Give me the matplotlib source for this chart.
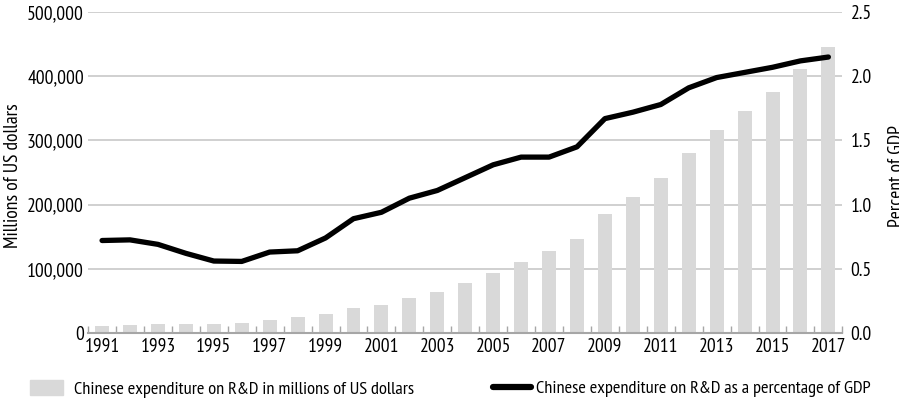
import numpy as np
import matplotlib
matplotlib.use('Agg')
import matplotlib.pyplot as plt
from matplotlib import font_manager
from matplotlib.ticker import FuncFormatter, FixedLocator
from matplotlib.patches import Patch
from matplotlib.lines import Line2D

# pick a narrow sans if one is around, the original uses a condensed face
have = {f.name for f in font_manager.fontManager.ttflist}
prefs = ['PT Sans Narrow', 'Roboto Condensed', 'Open Sans Condensed', 'Fira Sans Condensed',
         'Liberation Sans Narrow', 'Arimo', 'Liberation Sans']
fam = [f for f in prefs if f in have][:1] + ['DejaVu Sans']
plt.rcParams['font.family'] = fam

years = list(range(1991, 2018))
spend_musd = [11400, 13000, 14500, 14500, 14500, 16000, 20800, 24000, 30000, 39500,
              44000, 55000, 64400, 78400, 94000, 111000, 128000, 147000, 186000, 212000,
              242000, 281000, 317000, 346000, 376000, 412000, 446000]
pct_gdp = [0.72, 0.725, 0.69, 0.62, 0.56, 0.557, 0.63, 0.64, 0.74, 0.89,
           0.94, 1.05, 1.11, 1.21, 1.31, 1.37, 1.37, 1.45, 1.67, 1.72,
           1.78, 1.91, 1.99, 2.03, 2.07, 2.12, 2.15]
tick_years = years[::2]

bar_label = 'Chinese expenditure on R&D in millions of US dollars'
line_label = 'Chinese expenditure on R&D as a percentage of GDP'
fs = 14
fs_leg = 13.2

fig = plt.figure(figsize=(8.99, 4.04), dpi=100)
ax = fig.add_axes([0.098, 0.176, 0.839, 0.794])
x = np.arange(len(years))

ax.bar(x, spend_musd, width=0.5, color='#d9d9d9', zorder=2)
ax.set_ylim(0, 500000)
ax.set_xlim(-0.5, len(years) - 0.5)
ax.set_yticks(range(0, 500001, 100000))
ax.yaxis.set_major_formatter(FuncFormatter(lambda v, p: f'{int(v):,}'))
ax.grid(axis='y', color='#c8c8c8', lw=1.2, zorder=0)
ax.set_axisbelow(True)
for s in ['top', 'left', 'right']:
    ax.spines[s].set_visible(False)
ax.spines['bottom'].set_color('#a6a6a6')
ax.spines['bottom'].set_linewidth(1.5)
ax.spines['bottom'].set_zorder(3)

ax.set_xticks([years.index(y) for y in tick_years])
ax.set_xticklabels([str(y) for y in tick_years])
ax.xaxis.set_minor_locator(FixedLocator(np.arange(-0.5, len(years), 1.0)))
ax.tick_params(axis='x', which='major', length=0, labelsize=fs, pad=4)
ax.tick_params(axis='x', which='minor', direction='in', length=5, color='#a6a6a6', width=1)
ax.tick_params(axis='y', length=0, labelsize=fs, pad=3)
ax.set_ylabel('Millions of US dollars', fontsize=fs)
ax.yaxis.set_label_coords(-0.087, 0.49)

ax2 = ax.twinx()
ax2.plot(x, pct_gdp, color='black', lw=3.8, solid_capstyle='round', solid_joinstyle='round', zorder=4)
ax2.set_ylim(0, 2.5)
ax2.set_yticks(np.arange(0, 2.51, 0.5))
ax2.yaxis.set_major_formatter(FuncFormatter(lambda v, p: f'{v:.1f}'))
ax2.tick_params(axis='y', length=0, labelsize=fs, pad=6)
for s in ax2.spines.values():
    s.set_visible(False)
ax2.set_ylabel('Percent of GDP', fontsize=fs)
ax2.yaxis.set_label_coords(1.06, 0.49)

handles = [Patch(color='#d9d9d9'), Line2D([], [], color='black', lw=4.5, solid_capstyle='round')]
fig.legend(handles[:1], [bar_label], loc='center left', bbox_to_anchor=(0.0334, 0.037),
           frameon=False, fontsize=fs_leg, borderpad=0, borderaxespad=0,
           handlelength=1.8, handleheight=0.82, handletextpad=0.6)
fig.legend(handles[1:], [line_label], loc='center left', bbox_to_anchor=(0.548, 0.037),
           frameon=False, fontsize=fs_leg, borderpad=0, borderaxespad=0,
           handlelength=2.1, handletextpad=0.28)

fig.savefig('out.png', dpi=100)
